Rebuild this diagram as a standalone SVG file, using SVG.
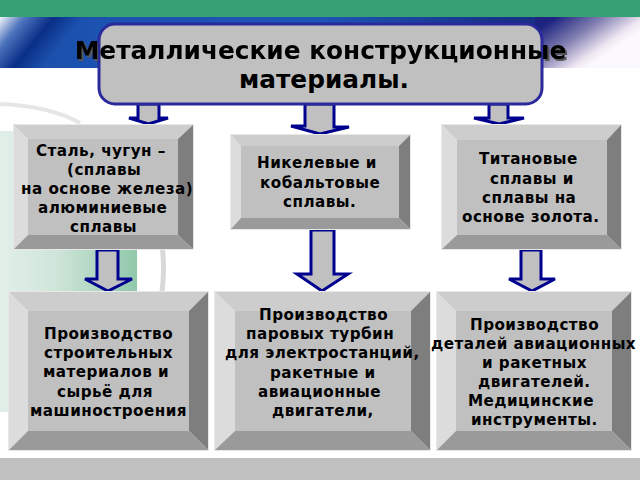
<svg xmlns="http://www.w3.org/2000/svg" width="640" height="480" viewBox="0 0 640 480">
<style>
.t{font-family:"DejaVu Sans","Liberation Sans",sans-serif;font-weight:700;font-size:15.2px;letter-spacing:.45px;fill:#000}
.h{font-family:"DejaVu Sans","Liberation Sans",sans-serif;font-weight:700;font-size:24.8px;fill:#000;text-anchor:middle}
.f{fill:#c0c0c0}.bt{fill:#cdcdcd}.bl{fill:#dcdcdc}.br{fill:#7e7e7e}.bb{fill:#9a9a9a}
.a{fill:#c0c0c0;stroke:#00008f;stroke-width:3;stroke-linejoin:miter}
</style>
<defs>
<linearGradient id="band" gradientUnits="userSpaceOnUse" x1="0" x2="640" y1="0" y2="0">
<stop offset="0" stop-color="#1a4fa8"/><stop offset=".15" stop-color="#1c52b0"/><stop offset=".5" stop-color="#1d55b5"/><stop offset=".8" stop-color="#182f86"/><stop offset="1" stop-color="#182f86"/>
</linearGradient>
<linearGradient id="bandL" gradientUnits="userSpaceOnUse" x1="0" y1="17" x2="50" y2="58">
<stop offset="0" stop-color="#f2f4fa"/><stop offset=".3" stop-color="#4d74bd"/><stop offset=".65" stop-color="#0a2f88"/><stop offset="1" stop-color="#0a2f88" stop-opacity="0"/>
</linearGradient>
<linearGradient id="bandR" gradientUnits="userSpaceOnUse" x1="556" y1="17" x2="590" y2="66">
<stop offset="0" stop-color="#1d2480"/><stop offset=".45" stop-color="#7f7db0"/><stop offset=".85" stop-color="#eee6f2"/><stop offset="1" stop-color="#fbf9fd"/>
</linearGradient>
<linearGradient id="panel" x1="0" x2="1" y1="0" y2="0">
<stop offset="0" stop-color="#e2efe9"/><stop offset=".4" stop-color="#d0e6da"/><stop offset="1" stop-color="#90c8aa"/>
</linearGradient>
<filter id="sh" filterUnits="userSpaceOnUse" x="50" y="30" width="540" height="70" color-interpolation-filters="sRGB">
<feOffset in="SourceAlpha" dx="1.5" dy="1.5" result="o"/>
<feFlood flood-color="#555" x="50" y="30" width="48" height="70" result="c1"/>
<feFlood flood-color="#555" x="543" y="30" width="47" height="70" result="c2"/>
<feMerge result="c"><feMergeNode in="c1"/><feMergeNode in="c2"/></feMerge>
<feComposite in="c" in2="o" operator="in" result="s"/>
<feMerge><feMergeNode in="s"/><feMergeNode in="SourceGraphic"/></feMerge>
</filter>
</defs>

<g id="background">
<rect width="640" height="480" fill="#fff"/>
<rect y="17" width="540" height="51" fill="url(#band)"/>
<rect y="17" width="120" height="51" fill="url(#bandL)"/>
<rect x="535" y="17" width="105" height="51" fill="url(#bandR)"/>
<rect width="640" height="17" fill="#38a173"/>
<rect y="131" width="137" height="281" fill="url(#panel)"/>
<path d="M0 104Q50 106 80 123" fill="none" stroke="#e6e6e6" stroke-width="4"/>
<path d="M162 245Q165 268 162 292" fill="none" stroke="#d8d8d8" stroke-width="5"/>
<rect y="458" width="640" height="22" fill="#c0c0c0"/>
</g>

<g id="connectors">
<path class="a" d="M138 104V118H129L148.500 124L168 118H159V104Z"/>
<path class="a" d="M305 104V126H291L320 134L349 127H334V104Z"/>
<path class="a" d="M489 104V118H474L499 124L524 118H508V104Z"/>
<path class="a" d="M97 250V279H85L108 291L132 279H118V250Z"/>
<path class="a" d="M311 230V274H297L322 291L348 274H334V230Z"/>
<path class="a" d="M521 250V279H509L532 291L555 279H541V250Z"/>
</g>

<g id="node-a">
<rect x="13" y="124" width="181" height="126" fill="#e8e8e8"/>
<path class="bt" d="M14 125H193L178 139H28Z"/><path class="bl" d="M14 125L28 139V235L14 249Z"/><path class="br" d="M193 125V249L178 235V139Z"/><path class="bb" d="M14 249L28 235H178L193 249Z"/><rect class="f" x="28" y="139" width="150" height="96"/>
<text class="t" x="36" y="156">Сталь, чугун –</text>
<text class="t" x="67" y="175">(сплавы</text>
<text class="t" x="21" y="194">на основе железа)</text>
<text class="t" x="38" y="213">алюминиевые</text>
<text class="t" x="70" y="232">сплавы</text>
</g>

<g id="node-b">
<rect x="230" y="134" width="181" height="96" fill="#e8e8e8"/>
<path class="bt" d="M231 135H410L399 146H241Z"/><path class="bl" d="M231 135L241 146V218L231 229Z"/><path class="br" d="M410 135V229L399 218V146Z"/><path class="bb" d="M231 229L241 218H399L410 229Z"/><rect class="f" x="241" y="146" width="158" height="72"/>
<text class="t" x="257" y="168">Никелевые и</text>
<text class="t" x="260" y="188">кобальтовые</text>
<text class="t" x="283" y="207">сплавы.</text>
</g>

<g id="node-c">
<rect x="441" y="124" width="181" height="126" fill="#e8e8e8"/>
<path class="bt" d="M442 125H621L607 140H457Z"/><path class="bl" d="M442 125L457 140V235L442 249Z"/><path class="br" d="M621 125V249L607 235V140Z"/><path class="bb" d="M442 249L457 235H607L621 249Z"/><rect class="f" x="457" y="140" width="150" height="95"/>
<text class="t" x="479" y="164">Титановые</text>
<text class="t" x="490" y="184">сплавы и</text>
<text class="t" x="482" y="203">сплавы на</text>
<text class="t" x="462" y="222">основе золота.</text>
</g>

<g id="node-d">
<rect x="8" y="291" width="201" height="160" fill="#e8e8e8"/>
<path class="bt" d="M9 292H208L189 311H28Z"/><path class="bl" d="M9 292L28 311V431L9 450Z"/><path class="br" d="M208 292V450L189 431V311Z"/><path class="bb" d="M9 450L28 431H189L208 450Z"/><rect class="f" x="28" y="311" width="161" height="120"/>
<text class="t" x="44" y="339">Производство</text>
<text class="t" x="44" y="358">строительных</text>
<text class="t" x="43" y="377">материалов и</text>
<text class="t" x="57" y="397">сырьё для</text>
<text class="t" x="30" y="416">машиностроения</text>
</g>

<g id="node-e">
<rect x="214" y="291" width="217" height="160" fill="#e8e8e8"/>
<path class="bt" d="M215 292H430L411 311H235Z"/><path class="bl" d="M215 292L235 311V431L215 450Z"/><path class="br" d="M430 292V450L411 431V311Z"/><path class="bb" d="M215 450L235 431H411L430 450Z"/><rect class="f" x="235" y="311" width="176" height="120"/>
<text class="t" x="259" y="320">Производство</text>
<text class="t" x="246" y="339">паровых турбин</text>
<text class="t" x="225" y="358">для электростанций,</text>
<text class="t" x="270" y="378">ракетные и</text>
<text class="t" x="258" y="397">авиационные</text>
<text class="t" x="272" y="416">двигатели,</text>
</g>

<g id="node-f">
<rect x="436" y="291" width="196" height="160" fill="#e8e8e8"/>
<path class="bt" d="M437 292H631L612 311H456Z"/><path class="bl" d="M437 292L456 311V431L437 450Z"/><path class="br" d="M631 292V450L612 431V311Z"/><path class="bb" d="M437 450L456 431H612L631 450Z"/><rect class="f" x="456" y="311" width="156" height="120"/>
<text class="t" x="470" y="330">Производство</text>
<text class="t" x="431" y="349">деталей авиационных</text>
<text class="t" x="482" y="368">и ракетных</text>
<text class="t" x="478" y="387">двигателей.</text>
<text class="t" x="468" y="406">Медицинские</text>
<text class="t" x="471" y="425">инструменты.</text>
</g>

<g id="node-title">
<rect x="99" y="24" width="443" height="80" rx="16" fill="#c0c0c0" stroke="#2a2a9c" stroke-width="3"/>
<text class="h" x="320.500" y="59" filter="url(#sh)">Металлические конструкционные</text>
<text class="h" x="324" y="88">материалы.</text>
</g>
</svg>
